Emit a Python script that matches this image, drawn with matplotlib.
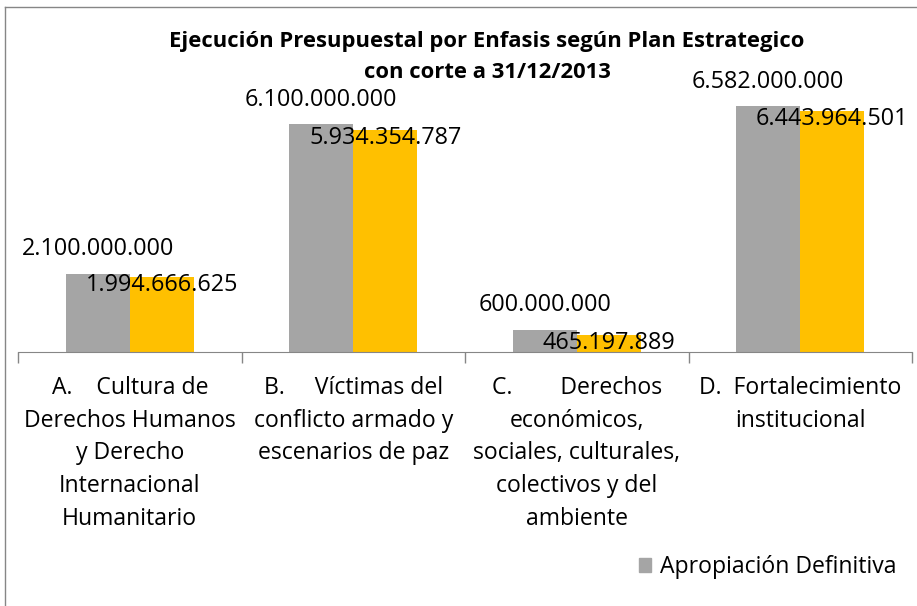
import matplotlib
matplotlib.use("Agg")
import matplotlib.pyplot as plt
from matplotlib.lines import Line2D
from matplotlib.patches import Patch

categories = [
    "A.    Cultura de\nDerechos Humanos\ny Derecho\nInternacional\nHumanitario",
    "B.     Víctimas del\nconflicto armado y\nescenarios de paz",
    "C.        Derechos\neconómicos,\nsociales, culturales,\ncolectivos y del\nambiente",
    "D.  Fortalecimiento\ninstitucional",
]
apropiacion = [2100000000, 6100000000, 600000000, 6582000000]
ejecucion = [1994666625, 5934354787, 465197889, 6443964501]
title_lines = ["Ejecución Presupuestal por Enfasis según Plan Estrategico",
               "con corte a 31/12/2013"]
legend_label = "Apropiación Definitiva"

GRAY = "#A5A5A5"
GOLD = "#FFC000"

def fmt(v):
    return f"{v:,}".replace(",", ".")

plt.rcParams['font.family'] = ['Open Sans', 'DejaVu Sans']

W, H = 917, 606
fig = plt.figure(figsize=(W / 100, H / 100), dpi=100)
ax_left, ax_right, ax_bottom, ax_top = 18, 912, 352, 90
ax = fig.add_axes([ax_left / W, 1 - ax_bottom / H, (ax_right - ax_left) / W, (ax_bottom - ax_top) / H])
ymax = 6582000000 * (ax_bottom - ax_top) / 246
ax.set_ylim(0, ymax)
ax.set_xlim(-0.5, len(categories) - 0.5)

bw = 0.286
x = list(range(len(categories)))
ax.bar([i - bw / 2 for i in x], apropiacion, width=bw, color=GRAY, zorder=2)
ax.bar([i + bw / 2 for i in x], ejecucion, width=bw, color=GOLD, zorder=2)

px = ymax / (ax_bottom - ax_top)
for i, v in enumerate(apropiacion):
    ax.text(i - bw / 2, v + 24.5 * px, fmt(v), ha="center", va="center", fontsize=16.8, color="black", zorder=3, clip_on=False)
for i, v in enumerate(ejecucion):
    ax.text(i + bw / 2, v - 8 * px, fmt(v), ha="center", va="center", fontsize=16.8, color="black", zorder=3, clip_on=False)

for s in ["top", "right", "left"]:
    ax.spines[s].set_visible(False)
ax.spines["bottom"].set_color("#868686")
ax.set_yticks([])
ax.set_xticks([i - 0.5 for i in range(len(categories) + 1)])
ax.set_xticklabels([])
ax.tick_params(axis="x", direction="out", length=8, color="#868686", width=1)

for i, c in enumerate(categories):
    xc = (ax_left + (i + 0.5) * (ax_right - ax_left) / 4) / W
    for k, line in enumerate(c.split("\n")):
        fig.text(xc, 1 - (394 + k * 32.7) / H, line, ha="center", va="baseline", fontsize=16.6)

for k, line in enumerate(title_lines):
    fig.text(487 / W, 1 - (42 + k * 30) / H, line, ha="center", va="center", fontsize=15.8, fontweight="bold")

fig.add_artist(Line2D([5 / W, 5 / W], [0, 1 - 7 / H], color="#868686", lw=1, transform=fig.transFigure))
fig.add_artist(Line2D([5 / W, 1], [1 - 7 / H, 1 - 7 / H], color="#868686", lw=1, transform=fig.transFigure))

fig.legend(handles=[Patch(color=GRAY, label=legend_label)], loc="center right",
           bbox_to_anchor=(896 / W, 1 - 567 / H), frameon=False, fontsize=16.6,
           handlelength=0.55, handleheight=0.55, handletextpad=0.35, borderaxespad=0, borderpad=0)

fig.savefig("out.png", dpi=100)
